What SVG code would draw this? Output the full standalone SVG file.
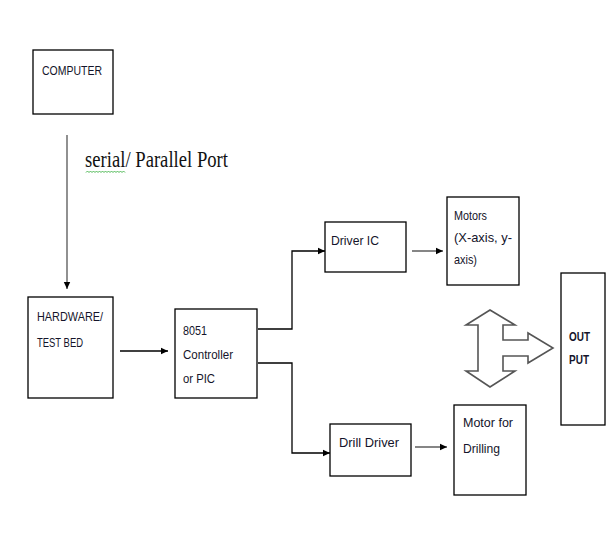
<svg xmlns="http://www.w3.org/2000/svg" width="612" height="553" viewBox="0 0 612 553">
<defs>
<marker id="ah" markerWidth="8" markerHeight="8" refX="7" refY="4" orient="auto" markerUnits="userSpaceOnUse">
<path d="M0,0.8 L7,4 L0,7.2 Z" fill="#000"/>
</marker>
</defs>
<style>
.box{fill:#fff;stroke:#000;stroke-width:1.3}
.t{font-family:"Liberation Sans",Arial,sans-serif;font-size:13.5px;fill:#14142a}
.b{font-weight:bold;font-size:13.5px}
.c{fill:none;stroke:#000;stroke-width:1.3}
</style>
<rect width="612" height="553" fill="#fff"/>
<g id="computer">
<rect class="box" x="33" y="50" width="80" height="64"/>
<text class="t" x="42" y="75" textLength="60" lengthAdjust="spacingAndGlyphs">COMPUTER</text>
</g>
<g id="port-label">
<text x="85" y="167" font-family="'Liberation Serif','Times New Roman',serif" font-size="22.5" textLength="143" lengthAdjust="spacingAndGlyphs" fill="#111">serial/ Parallel Port</text>
<path d="M86,172.5 l1.5,-1.5 l1.5,1.5 l1.5,-1.5 l1.5,1.5 l1.5,-1.5 l1.5,1.5 l1.5,-1.5 l1.5,1.5 l1.5,-1.5 l1.5,1.5 l1.5,-1.5 l1.5,1.5 l1.5,-1.5 l1.5,1.5 l1.5,-1.5 l1.5,1.5 l1.5,-1.5 l1.5,1.5 l1.5,-1.5 l1.5,1.5 l1.5,-1.5 l1.5,1.5 l1.5,-1.5 l1.5,1.5 l1.5,-1.5 l1.5,1.5" fill="none" stroke="#3cb043" stroke-width="0.9"/>
</g>
<g id="hardware">
<rect class="box" x="28" y="297" width="85" height="101"/>
<text class="t" x="37" y="321" textLength="66" lengthAdjust="spacingAndGlyphs">HARDWARE/</text>
<text class="t" x="37" y="347" textLength="46" lengthAdjust="spacingAndGlyphs">TEST BED</text>
</g>
<g id="controller">
<rect class="box" x="175" y="309" width="82" height="89"/>
<text class="t" x="183" y="335" textLength="24" lengthAdjust="spacingAndGlyphs">8051</text>
<text class="t" x="183" y="359" textLength="50" lengthAdjust="spacingAndGlyphs">Controller</text>
<text class="t" x="183" y="383" textLength="32" lengthAdjust="spacingAndGlyphs">or PIC</text>
</g>
<g id="driver-ic">
<rect class="box" x="325" y="222" width="81" height="50"/>
<text class="t" x="331" y="245" textLength="48" lengthAdjust="spacingAndGlyphs">Driver IC</text>
</g>
<g id="motors">
<rect class="box" x="447" y="197" width="72" height="88"/>
<text class="t" x="454" y="220" textLength="33" lengthAdjust="spacingAndGlyphs">Motors</text>
<text class="t" x="454" y="242" textLength="58" lengthAdjust="spacingAndGlyphs">(X-axis, y-</text>
<text class="t" x="454" y="264" textLength="23" lengthAdjust="spacingAndGlyphs">axis)</text>
</g>
<g id="drill-driver">
<rect class="box" x="330" y="424" width="81" height="52"/>
<text class="t" x="339" y="447" textLength="60" lengthAdjust="spacingAndGlyphs">Drill Driver</text>
</g>
<g id="motor-drilling">
<rect class="box" x="454" y="405" width="72" height="90"/>
<text class="t" x="463" y="427" textLength="50" lengthAdjust="spacingAndGlyphs">Motor for</text>
<text class="t" x="463" y="453" textLength="37" lengthAdjust="spacingAndGlyphs">Drilling</text>
</g>
<g id="output">
<rect class="box" x="561" y="273" width="44" height="152"/>
<text class="t b" x="569" y="341" textLength="21" lengthAdjust="spacingAndGlyphs">OUT</text>
<text class="t b" x="569" y="364" textLength="20" lengthAdjust="spacingAndGlyphs">PUT</text>
</g>
<g id="block-arrow">
<polygon points="490,310 515,325 503,325 503,340 528,340 528,333 553,348 528,363 528,356 503,356 503,371 515,371 490,387 466,371 478,371 478,325 466,325" fill="#fff" stroke="#555" stroke-width="1.6" stroke-linejoin="miter"/>
</g>
<g id="connectors">
<line x1="67" y1="135" x2="67" y2="289" stroke="#555" stroke-width="1.3" marker-end="url(#ah)"/>
<line class="c" x1="120" y1="351" x2="168" y2="351" marker-end="url(#ah)"/>
<polyline class="c" points="258,329 292,329 292,251 325,251" marker-end="url(#ah)"/>
<polyline class="c" points="258,363 292,363 292,453 330,453" marker-end="url(#ah)"/>
<line x1="412" y1="251" x2="443" y2="251" stroke="#444" stroke-width="1.3" marker-end="url(#ah)"/>
<line x1="415" y1="447" x2="447" y2="447" stroke="#444" stroke-width="1.3" marker-end="url(#ah)"/>
</g>
</svg>
